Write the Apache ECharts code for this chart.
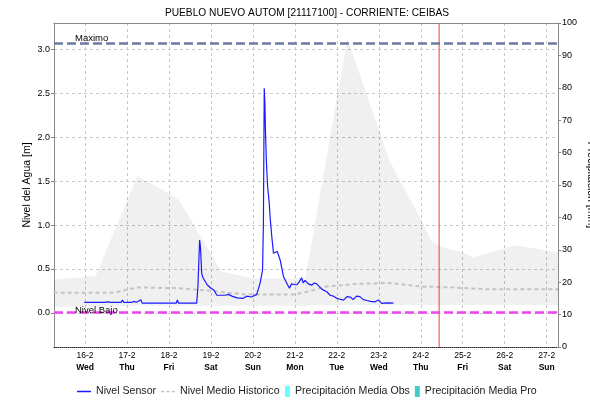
<!DOCTYPE html>
<html><head><meta charset="utf-8">
<script src="https://cdn.jsdelivr.net/npm/echarts@6/dist/echarts.min.js"></script>
<style>html,body{margin:0;padding:0;background:#fff}#c{width:590px;height:401px}</style>
</head><body><div id="c"></div>
<script>
const titleText = 'PUEBLO NUEVO AUTOM [21117100] - CORRIENTE: CEIBAS';
const dayTicks = [16, 17, 18, 19, 20, 21, 22, 23, 24, 25, 26, 27];
const dayLabels = ['16-2','17-2','18-2','19-2','20-2','21-2','22-2','23-2','24-2','25-2','26-2','27-2'];
const weekDays = ['Wed','Thu','Fri','Sat','Sun','Mon','Tue','Wed','Thu','Fri','Sat','Sun'];

const sensorDays = [15.98,16.36,16.40,16.45,16.55,16.60,16.63,16.66,16.86,16.89,16.92,17.05,17.08,17.12,17.17,17.22,17.28,17.31,17.33,17.36,18.17,18.20,18.23,18.66,18.69,18.73,18.75,18.78,18.81,18.85,18.91,19.00,19.07,19.14,19.34,19.42,19.50,19.62,19.77,19.85,19.97,20.09,20.17,20.23,20.25,20.27,20.285,20.30,20.32,20.35,20.39,20.41,20.45,20.49,20.53,20.58,20.61,20.65,20.73,20.81,20.87,20.92,20.96,21.00,21.05,21.10,21.16,21.20,21.24,21.28,21.32,21.36,21.40,21.46,21.52,21.64,21.76,21.84,21.92,22.00,22.08,22.16,22.24,22.32,22.39,22.47,22.55,22.63,22.72,22.80,22.91,22.99,23.07,23.19,23.35];
const sensorLevels = [0.12,0.12,0.13,0.12,0.125,0.12,0.13,0.12,0.12,0.145,0.12,0.12,0.135,0.12,0.13,0.12,0.135,0.12,0.15,0.11,0.11,0.145,0.11,0.11,0.30,0.83,0.75,0.45,0.40,0.38,0.32,0.28,0.26,0.20,0.20,0.21,0.19,0.17,0.165,0.19,0.18,0.21,0.335,0.49,1.02,2.56,2.39,2.05,1.74,1.44,1.25,1.09,0.87,0.68,0.68,0.70,0.70,0.60,0.41,0.335,0.28,0.33,0.35,0.32,0.32,0.35,0.40,0.34,0.37,0.35,0.33,0.35,0.315,0.34,0.33,0.27,0.24,0.20,0.19,0.165,0.155,0.145,0.185,0.18,0.15,0.19,0.185,0.15,0.14,0.13,0.125,0.145,0.107,0.114,0.11];

const meanDays = [15.25,16.7,17.25,18.25,19.0,19.8,21.0,21.3,21.75,22.5,23.25,24.0,24.75,25.5,27.27];
const meanLevels = [0.23,0.23,0.29,0.28,0.25,0.21,0.21,0.24,0.30,0.33,0.34,0.30,0.29,0.27,0.27];

const bandDays = [15.26,16.25,17.25,18.0,18.25,19.25,20.0,21.25,22.25,23.25,24.0,24.25,24.5,25.0,25.25,26.25,27.27];
const bandUpper = [0.38,0.42,1.56,1.36,1.28,0.47,0.39,0.39,3.13,1.74,1.07,0.82,0.75,0.69,0.63,0.77,0.69];
const bandLower = [0.07,0.07,0.08,0.08,0.08,0.08,0.08,0.08,0.09,0.09,0.09,0.09,0.09,0.09,0.09,0.09,0.09];

const precipObs = [];
const precipPro = [];

const levelMin = -0.39;
const levelTop = 3.305;
const levelMax = 3.07;
const levelLow = 0.01;
const nowDay = 24.437;

const FONT = 'Liberation Sans';
const pair = (xs, ys) => xs.map((x, i) => [x, ys[i]]);

const chart = echarts.init(document.getElementById('c'), null, {renderer: 'canvas'});
chart.setOption({
  animation: false,
  backgroundColor: '#fff',
  textStyle: {fontFamily: FONT},
  title: {
    text: titleText, left: 302, top: 3, textAlign: 'center',
    textStyle: {fontFamily: FONT, fontSize: 10.2, fontWeight: 'normal', color: '#000'}
  },
  grid: {left: 54, right: 32, top: 23, bottom: 54, containLabel: false, outerBoundsMode: 'none'},
  legend: [{
    left: 77, top: 386, padding: 0, itemWidth: 14, itemHeight: 11, itemGap: 5,
    textStyle: {fontFamily: FONT, fontSize: 10.6, color: '#222'},
    data: [
      {name: 'Nivel Sensor', icon: 'path://M0,0H14V1.5H0Z'},
      {name: 'Nivel Medio Historico', icon: 'path://M0,0H3V1.5H0Z M5.5,0H8.5V1.5H5.5Z M11,0H14V1.5H11Z'}
    ]
  }, {
    left: 285, top: 386, padding: 0, itemWidth: 5, itemHeight: 11, itemGap: 5,
    textStyle: {fontFamily: FONT, fontSize: 10.6, color: '#222'},
    data: [
      {name: 'Precipitación Media Obs', icon: 'rect'},
      {name: 'Precipitación Media Pro', icon: 'rect'}
    ]
  }],
  xAxis: [{
    type: 'value', min: 15.26, max: 27.27, splitNumber: 12,
    axisLine: {show: true, onZero: false, lineStyle: {color: '#222', type: [1, 1], width: 1}},
    axisTick: {show: false},
    splitLine: {show: true, lineStyle: {color: '#c8c8c8', type: [3, 3], width: 1}},
    axisLabel: {
      showMinLabel: false, showMaxLabel: false, margin: 3,
      fontFamily: FONT, fontSize: 8.5, color: '#000', lineHeight: 12,
      formatter: function (v) {
        const r = Math.round(v);
        const i = dayTicks.indexOf(r);
        if (Math.abs(v - r) > 1e-6 || i < 0) return '';
        return dayLabels[i] + '\n{b|' + weekDays[i] + '}';
      },
      rich: {b: {fontFamily: FONT, fontSize: 8.5, fontWeight: 'bold', color: '#000', lineHeight: 12}}
    }
  }, {
    type: 'value', position: 'top', min: 15.26, max: 27.27,
    axisLine: {show: true, onZero: false, lineStyle: {color: '#888', width: 1}},
    axisTick: {show: false}, axisLabel: {show: false}, splitLine: {show: false}
  }],
  yAxis: [{
    type: 'value', min: levelMin, max: levelTop, splitNumber: 7,
    name: 'Nivel del Agua [m]', nameLocation: 'middle', nameGap: 21, nameRotate: 90, nameMoveOverlap: false,
    nameTextStyle: {fontFamily: FONT, fontSize: 10.5, color: '#000'},
    axisLine: {show: true, onZero: false, lineStyle: {color: '#888', width: 1}},
    axisTick: {show: true, length: 3, lineStyle: {color: '#888'}},
    splitLine: {show: true, lineStyle: {color: '#c8c8c8', type: [3, 3], width: 1}},
    axisLabel: {
      showMinLabel: false, showMaxLabel: false, margin: 4,
      fontFamily: FONT, fontSize: 9, color: '#000',
      formatter: function (v) {
        if (Math.abs(v * 2 - Math.round(v * 2)) > 1e-6) return '';
        return v.toFixed(1);
      }
    }
  }, {
    type: 'value', min: 0, max: 100, interval: 10, position: 'right',
    name: 'Precipitación [mm]', nameLocation: 'middle', nameGap: 27, nameRotate: -90, nameMoveOverlap: false,
    nameTextStyle: {fontFamily: FONT, fontSize: 10.5, color: '#000'},
    axisLine: {show: true, lineStyle: {color: '#888', width: 1}},
    axisTick: {show: true, length: 3, lineStyle: {color: '#888'}},
    splitLine: {show: false},
    axisLabel: {margin: 4, fontFamily: FONT, fontSize: 9, color: '#000'}
  }],
  series: [
    {
      name: 'Rango Historico', type: 'custom', yAxisIndex: 0, silent: true, z: 1,
      data: [[bandDays[0], bandUpper[0]]],
      renderItem: function (params, api) {
        const pts = [];
        for (let i = 0; i < bandDays.length; i++) pts.push(api.coord([bandDays[i], bandUpper[i]]));
        for (let i = bandDays.length - 1; i >= 0; i--) pts.push(api.coord([bandDays[i], bandLower[i]]));
        return {type: 'polygon', shape: {points: pts}, style: {fill: 'rgba(0,0,0,0.06)', stroke: null}};
      }
    },
    {
      name: 'Nivel Medio Historico', type: 'line', yAxisIndex: 0,
      data: pair(meanDays, meanLevels), symbol: 'none',
      lineStyle: {color: '#c4c4c4', width: 2, type: [4, 3]}, itemStyle: {color: '#c4c4c4'}, z: 2
    },
    {
      name: 'Precipitación Media Obs', type: 'bar', yAxisIndex: 1, data: precipObs,
      itemStyle: {color: '#66ffff'}
    },
    {
      name: 'Precipitación Media Pro', type: 'bar', yAxisIndex: 1, data: precipPro,
      itemStyle: {color: '#44cccc'}
    },
    {
      name: 'Ahora', type: 'line', yAxisIndex: 0, z: 3, silent: true,
      data: [[nowDay, levelMin], [nowDay, levelTop]], symbol: 'none',
      lineStyle: {color: '#e8403c', width: 1, type: 'solid'}, itemStyle: {color: '#e8403c'}
    },
    {
      name: 'Nivel Sensor', type: 'line', yAxisIndex: 0,
      data: pair(sensorDays, sensorLevels), symbol: 'none',
      lineStyle: {color: '#1a1aff', width: 1.2}, itemStyle: {color: '#1a1aff'}, z: 4,
      markLine: {
        silent: true, symbol: 'none', animation: false,
        data: [
          {yAxis: levelMax, lineStyle: {color: '#6b7aa3', width: 2.5, type: [9, 4]},
           label: {show: true, formatter: 'Maximo', position: 'insideStartTop', distance: [21, 0], fontFamily: FONT, fontSize: 9.5, color: '#000'}},
          {yAxis: levelLow, lineStyle: {color: '#ee44ee', width: 2.5, type: [9, 4]},
           label: {show: true, formatter: 'Nivel Bajo', position: 'insideStartTop', distance: [21, -3], fontFamily: FONT, fontSize: 9.5, color: '#000'}}
        ]
      }
    }
  ]
});
</script></body></html>
